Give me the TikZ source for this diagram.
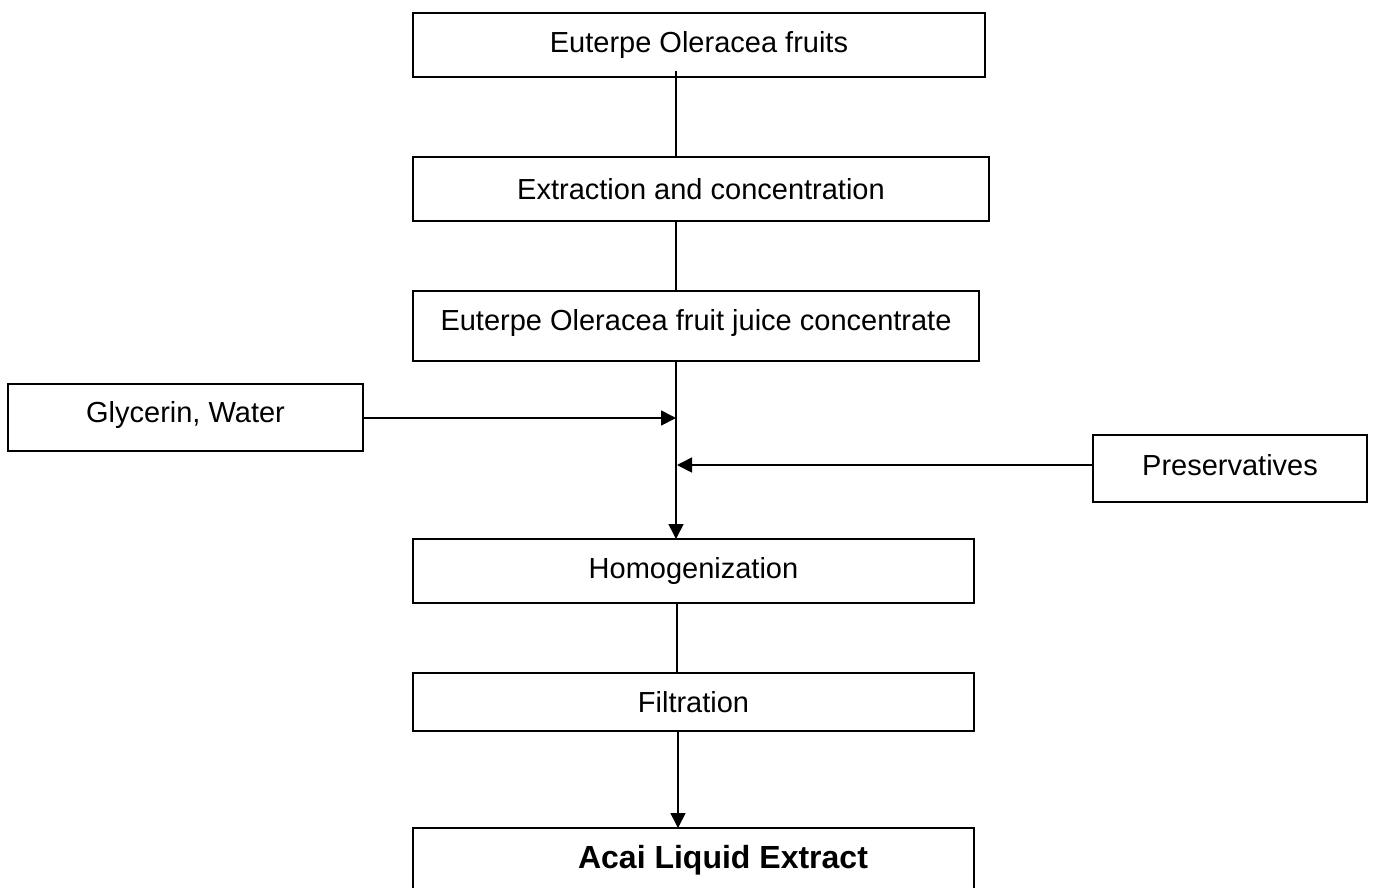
\documentclass[tikz,border=0pt]{standalone}
\usepackage{fontspec}
\setmainfont{Liberation Sans}
\usetikzlibrary{arrows.meta}
\begin{document}
\begin{tikzpicture}[x=1pt,y=1pt,
  box/.style={draw, line width=1.6pt, inner sep=0pt, outer sep=0pt,
    font=\fontsize{29}{34}\selectfont},
  conn/.style={line width=1.6pt},
  arr/.style={line width=1.6pt, -{Triangle[length=15pt,width=15pt]}}]
\clip (0,0) rectangle (1374,-887);
\fill[white] (0,0) rectangle (1374,-887);
\coordinate (spine) at (676,0);
\coordinate (spine2) at (678,0);
\node[box, minimum width=572pt, minimum height=64pt] (b1) at (699,-45) {Euterpe Oleracea fruits};
\node[box, minimum width=576pt, minimum height=64pt] (b2) at (701,-189) {Extraction and concentration};
\node[box, minimum width=566pt, minimum height=70pt, text depth=12pt] (b3) at (696,-326) {Euterpe Oleracea fruit juice concentrate};
\node[box, minimum width=355pt, minimum height=67pt, text depth=12pt] (gly) at (185.5,-417.5) {Glycerin, Water};
\node[box, minimum width=274pt, minimum height=67pt, text depth=8pt] (pres) at (1230,-468.5) {Preservatives};
\node[box, minimum width=561pt, minimum height=64pt] (homog) at (693.5,-571) {Homogenization};
\node[box, minimum width=561pt, minimum height=58pt] (filt) at (693.5,-702) {Filtration};
\node[box, minimum width=561pt, minimum height=64pt, font=\fontsize{32}{38}\selectfont\bfseries] (acai) at (693.5,-860) {\hspace*{59pt}Acai Liquid Extract};
\coordinate (s1) at (b1.south -| spine);
\coordinate (j1) at (676,-418);
\coordinate (j2) at (677,-465);
\coordinate (p2) at (pres.west |- j2);
\draw[conn] ([yshift=6pt]s1) -- (b2.north -| spine);
\draw[conn] (b2.south -| spine) -- (b3.north -| spine);
\draw[arr] (b3.south -| spine) -- (homog.north -| spine);
\draw[arr] (gly.east |- j1) -- (j1);
\draw[arr] (p2) -- (j2);
\draw[conn] (homog.south -| j2) -- (filt.north -| j2);
\draw[arr] (filt.south -| spine2) -- (acai.north -| spine2);
\end{tikzpicture}
\end{document}
